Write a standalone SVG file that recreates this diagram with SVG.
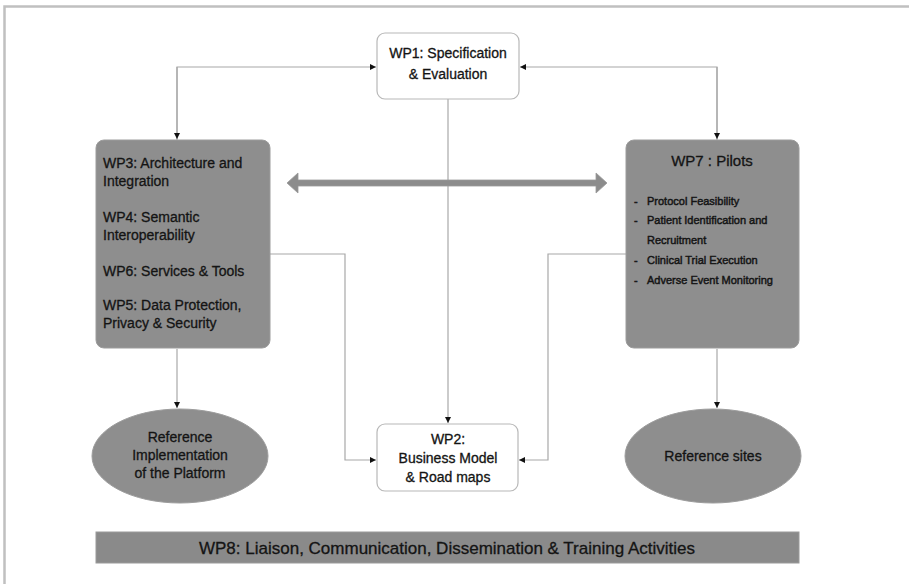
<svg xmlns="http://www.w3.org/2000/svg" width="909" height="584" viewBox="0 0 909 584">
<style>
text{font-family:"Liberation Sans",Arial,sans-serif;fill:#141414;stroke:#141414;stroke-width:0.3}
.wbox{fill:#fff;stroke:#b8b8b8;stroke-width:1.2}
.gbox{fill:#8e8e8e;stroke:#9c9c9c;stroke-width:1}
.ctr{text-anchor:middle}
.conn{fill:none;stroke:#a8a8a8;stroke-width:1.2}
.bul{stroke-width:0.45}
</style>
<defs>
<marker id="ah" viewBox="0 0 10 10" refX="10" refY="5" markerWidth="6" markerHeight="6" markerUnits="userSpaceOnUse" orient="auto">
<path d="M0,0 L10,5 L0,10 z" fill="#111"/>
</marker>
</defs>
<rect width="909" height="584" fill="#fff"/>
<path d="M4.5,584 V6.5 H909" fill="none" stroke="#c0c0c0" stroke-width="2.5"/>

<g id="connectors">
<path class="conn" d="M177,140 V67 H376" marker-end="url(#ah)"/>
<path class="conn" d="M177,67 V139" marker-end="url(#ah)"/>
<path class="conn" d="M717,140 V67 H520" marker-end="url(#ah)"/>
<path class="conn" d="M717,67 V139" marker-end="url(#ah)"/>
<path class="conn" d="M448,99 V423" marker-end="url(#ah)"/>
<path class="conn" d="M270,254 H345 V460 H376" marker-end="url(#ah)"/>
<path class="conn" d="M626,254 H548 V460 H519" marker-end="url(#ah)"/>
<path class="conn" d="M177,349 V408" marker-end="url(#ah)"/>
<path class="conn" d="M717,349 V408" marker-end="url(#ah)"/>
<path d="M287,183 L298,173 V180 H596 V173 L607,183 L596,193 V186 H298 V193 Z" fill="#8c8c8c" stroke="#999" stroke-width="0.8"/>
</g>

<g id="wp1">
<rect class="wbox" x="377" y="33" width="142" height="66" rx="8"/>
<text class="ctr" x="448" y="58" font-size="14">WP1: Specification</text>
<text class="ctr" x="448" y="79" font-size="14">&amp; Evaluation</text>
</g>

<g id="wp3">
<rect class="gbox" x="96" y="140" width="174" height="208" rx="8"/>
<text x="103" y="168" font-size="14">WP3: Architecture and</text>
<text x="103" y="186" font-size="14">Integration</text>
<text x="103" y="222" font-size="14">WP4: Semantic</text>
<text x="103" y="240" font-size="14">Interoperability</text>
<text x="103" y="276" font-size="14">WP6: Services &amp; Tools</text>
<text x="103" y="310" font-size="14">WP5: Data Protection,</text>
<text x="103" y="328" font-size="14">Privacy &amp; Security</text>
</g>

<g id="wp7">
<rect class="gbox" x="626" y="140" width="173" height="208" rx="8"/>
<text class="ctr" x="712" y="166" font-size="15">WP7 : Pilots</text>
<g font-size="11">
<text class="bul" x="634" y="205">-</text><text class="bul" x="647" y="205">Protocol Feasibility</text>
<text class="bul" x="634" y="224">-</text><text class="bul" x="647" y="224">Patient Identification and</text>
<text class="bul" x="647" y="244">Recruitment</text>
<text class="bul" x="634" y="264">-</text><text class="bul" x="647" y="264">Clinical Trial Execution</text>
<text class="bul" x="634" y="284">-</text><text class="bul" x="647" y="284">Adverse Event Monitoring</text>
</g>
</g>

<g id="wp2">
<rect class="wbox" x="377" y="424" width="141" height="67" rx="8"/>
<text class="ctr" x="448" y="444" font-size="14">WP2:</text>
<text class="ctr" x="448" y="463" font-size="14">Business Model</text>
<text class="ctr" x="448" y="482" font-size="14">&amp; Road maps</text>
</g>

<g id="ref-impl">
<ellipse cx="180" cy="456" rx="88" ry="47" fill="#8e8e8e" stroke="#9c9c9c"/>
<text class="ctr" x="180" y="442" font-size="14">Reference</text>
<text class="ctr" x="180" y="460" font-size="14">Implementation</text>
<text class="ctr" x="180" y="478" font-size="14">of the Platform</text>
</g>

<g id="ref-sites">
<ellipse cx="713" cy="456" rx="88" ry="47" fill="#8e8e8e" stroke="#9c9c9c"/>
<text class="ctr" x="713" y="461" font-size="14">Reference sites</text>
</g>

<g id="wp8">
<rect x="96" y="532" width="703" height="31" fill="#8a8a8a" stroke="#9a9a9a"/>
<text class="ctr" x="447" y="554" font-size="17">WP8: Liaison, Communication, Dissemination &amp; Training Activities</text>
</g>
</svg>
